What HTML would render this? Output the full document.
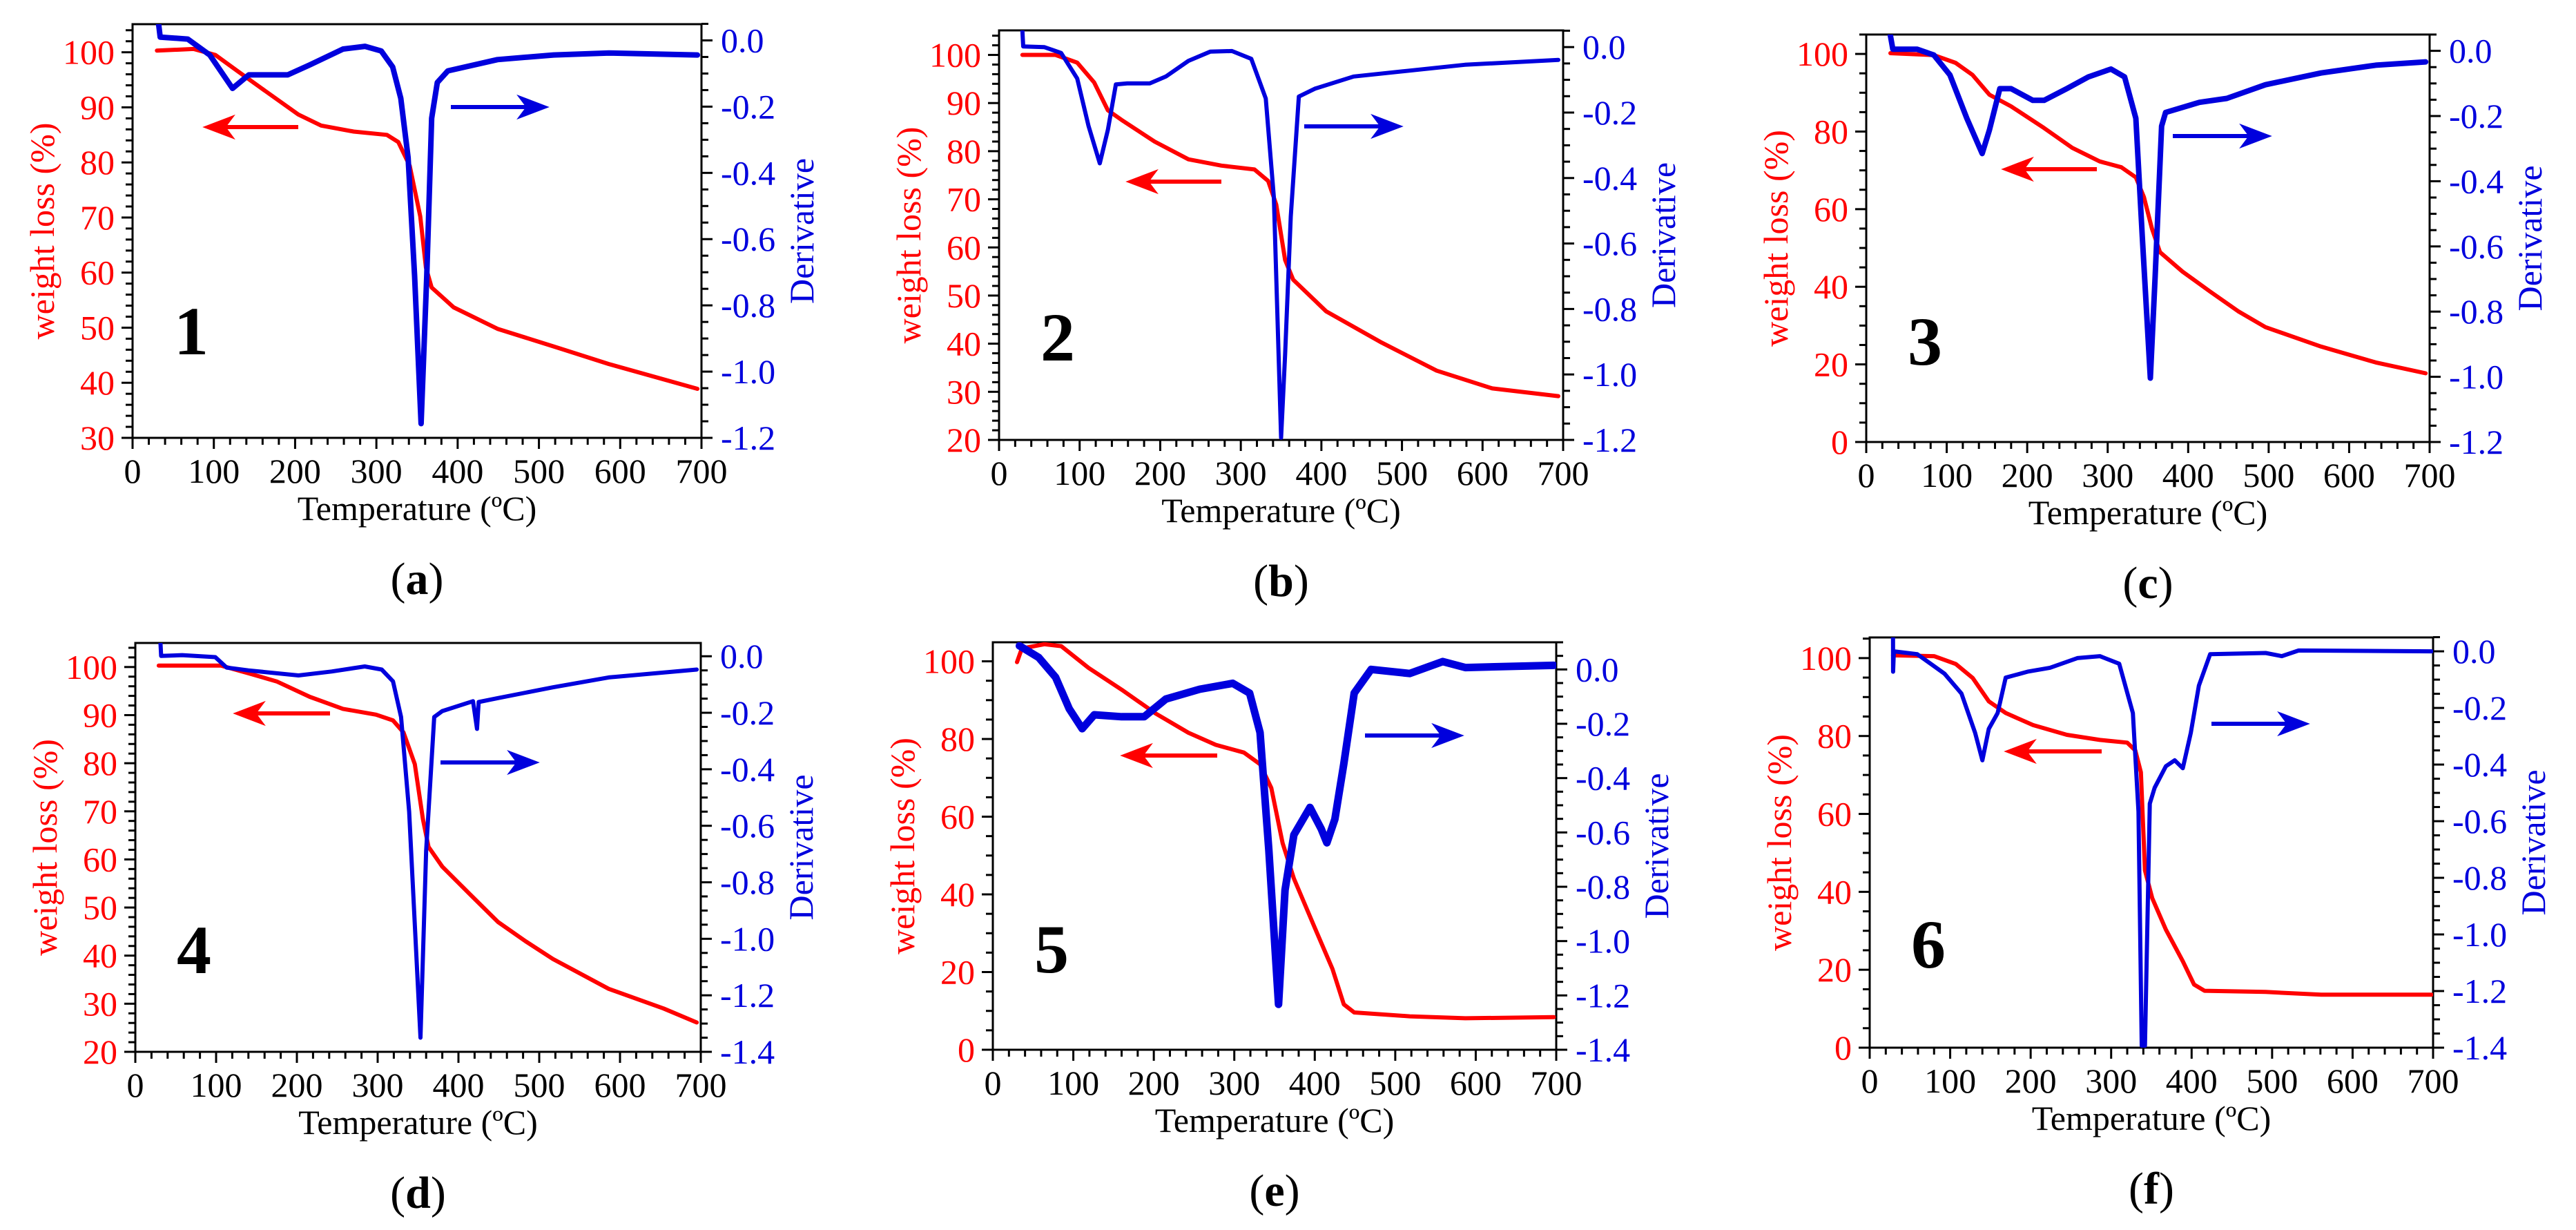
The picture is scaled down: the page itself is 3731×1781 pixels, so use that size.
<!DOCTYPE html>
<html><head><meta charset="utf-8"><title>TGA/DTG curves</title>
<style>
html,body{margin:0;padding:0;background:#fff;}
svg{display:block;}
svg text{font-family:"Liberation Serif","Times New Roman",serif;}
</style></head>
<body>
<svg id="fig" xmlns="http://www.w3.org/2000/svg" width="3731" height="1781" viewBox="0 0 3731 1781" font-family="Liberation Serif, serif"></svg>
<script>
// ---- data (panel a / compound 1) ----
const wTempA=[30,75,102,129,163,204,232,272,313,327,341,354,361,368,395,449,518,586,695];
const wLossA=[100.3,100.6,99.5,96.6,93.0,88.7,86.7,85.6,85.0,83.7,79.4,70.2,60.9,57.3,53.7,49.8,46.6,43.4,38.9];
const dTempA=[32,34,68,95,123,143,191,218,259,286,306,320,330,339,347,355,362,368,375,388,449,518,586,695];
const derivA=[0.05,0.01,0.004,-0.044,-0.145,-0.104,-0.104,-0.074,-0.026,-0.018,-0.032,-0.08,-0.175,-0.354,-0.711,-1.157,-0.711,-0.235,-0.127,-0.092,-0.058,-0.044,-0.038,-0.044];
// ---- panel b / compound 2 ----
const wTempB=[29,70,97,118,135,152,193,235,276,317,334,344,355,365,406,475,543,612,694];
const wLossB=[100,100,98.4,94.3,88.5,86.5,82,78.3,77.0,76.2,73.8,68.9,57.4,53.3,46.7,40.2,34.4,30.7,29.1];
const dTempB=[29,30,56,77,97,111,125,135,145,159,187,207,235,262,289,313,331,341,350,355,362,372,392,440,509,578,694];
const derivB=[0.05,0.002,0,-0.018,-0.096,-0.241,-0.355,-0.253,-0.114,-0.111,-0.111,-0.090,-0.042,-0.014,-0.012,-0.036,-0.157,-0.458,-1.193,-0.94,-0.518,-0.151,-0.127,-0.090,-0.072,-0.054,-0.039];
// ---- panel c / compound 3 ----
const wTempC=[30,84,111,132,153,180,221,256,290,317,335,345,355,365,393,427,462,496,565,633,695];
const wLossC=[100.2,99.7,97.7,94.6,89.5,86.5,80.9,75.8,72.3,70.8,68.2,63.1,55.0,48.9,43.9,38.8,33.7,29.6,24.6,20.5,17.7];
const dTempC=[30,33,63,84,104,125,144,153,166,180,207,221,249,276,304,321,335,343,353,359,367,372,414,448,496,565,633,695];
const derivC=[0.047,0.005,0.005,-0.013,-0.074,-0.207,-0.315,-0.243,-0.116,-0.116,-0.152,-0.152,-0.116,-0.080,-0.056,-0.080,-0.207,-0.569,-1.004,-0.69,-0.231,-0.189,-0.158,-0.146,-0.104,-0.068,-0.044,-0.034];
// ---- panel d / compound 4 ----
const wTempD=[29,106,140,175,216,257,298,319,332,346,356,363,380,414,449,483,517,586,654,695];
const wLossD=[100.3,100.3,98.7,97.0,93.8,91.3,90.1,88.9,86.4,79.8,68.4,62.6,58.5,52.8,47.0,43.0,39.3,33.1,29.0,26.1];
const dTempD=[31,32,58,99,113,140,202,243,284,305,319,329,339,353,360,370,380,418,423,425,449,517,586,695];
const derivD=[0.053,0.001,0.004,-0.003,-0.04,-0.05,-0.068,-0.054,-0.036,-0.047,-0.089,-0.215,-0.55,-1.35,-0.689,-0.215,-0.194,-0.159,-0.257,-0.162,-0.148,-0.11,-0.075,-0.047];
// ---- panel e / compound 5 ----
const wTempE=[30,36,64,85,119,160,202,243,277,312,332,346,360,374,401,422,436,449,518,587,697];
const wLossE=[99.8,103.3,104.4,103.9,98.3,92.7,86.6,81.6,78.5,76.5,73.5,67.4,53.2,44.1,30.9,20.8,11.7,9.6,8.6,8.1,8.4];
const dTempE=[33,57,78,95,111,126,160,188,215,257,298,319,332,343,355,363,374,394,408,415,425,436,449,470,518,559,587,697];
const derivE=[0.087,0.044,-0.029,-0.145,-0.218,-0.167,-0.174,-0.174,-0.109,-0.073,-0.051,-0.087,-0.232,-0.667,-1.233,-0.812,-0.609,-0.508,-0.587,-0.638,-0.551,-0.348,-0.087,0,-0.015,0.029,0.007,0.015];
// ---- panel f / compound 6 ----
const wTempF=[29,80,107,128,148,169,203,245,286,320,330,337,342,351,368,389,403,416,492,561,698];
const wLossF=[100.7,100.5,98.5,94.9,88.9,85.9,82.8,80.3,79.0,78.3,76.3,70.7,45.5,38.4,30.3,22.2,16.2,14.6,14.3,13.6,13.6];
const dTempF=[29,29.1,30,59,93,114,131,140,148,159,169,196,224,258,286,310,327,334,338,342,348,354,368,379,389,399,409,423,492,512,533,698];
const derivF=[0.046,-0.072,0,-0.01,-0.079,-0.149,-0.288,-0.385,-0.274,-0.218,-0.093,-0.072,-0.058,-0.024,-0.017,-0.044,-0.218,-0.566,-1.393,-1.393,-0.538,-0.482,-0.406,-0.385,-0.413,-0.288,-0.121,-0.01,-0.006,-0.017,0.003,0];
// ---- shared tick labels ----
const xTicks=[0,100,200,300,400,500,600,700];

const panels=[
 {id:'a',num:'1',L:192,R:1016,T:35,B:634,wMin:30,wMax:105.1,wStep:10,wMinor:2,dMin:-1.2,dMax:0.049,
  wt:wTempA,wv:wLossA,dt:dTempA,dv:derivA,bw:8,ra:[149,240,104],ba:[120,461,601]},
 {id:'b',num:'2',L:1447,R:2264,T:44,B:637,wMin:20,wMax:105.1,wStep:10,wMinor:2,dMin:-1.2,dMax:0.051,
  wt:wTempB,wv:wLossB,dt:dTempB,dv:derivB,bw:6,ra:[219,322,186],ba:[139,442,583]},
 {id:'c',num:'3',L:2703,R:3519,T:50,B:640,wMin:0,wMax:105,wStep:20,wMinor:5,dMin:-1.2,dMax:0.05,
  wt:wTempC,wv:wLossC,dt:dTempC,dv:derivC,bw:8,ra:[195,334,198],ba:[147,444,585]},
 {id:'d',num:'4',L:196,R:1015,T:931,B:1523,wMin:20,wMax:105,wStep:10,wMinor:2,dMin:-1.4,dMax:0.047,
  wt:wTempD,wv:wLossD,dt:dTempD,dv:derivD,bw:6,ra:[102,282,144],ba:[173,442,583]},
 {id:'e',num:'5',L:1438,R:2254,T:930,B:1520,wMin:0,wMax:104.9,wStep:20,wMinor:5,dMin:-1.4,dMax:0.10,
  wt:wTempE,wv:wLossE,dt:dTempE,dv:derivE,bw:11,ra:[164,325,187],ba:[135,539,680]},
 {id:'f',num:'6',L:2708,R:3524,T:923,B:1517,wMin:0,wMax:105.3,wStep:20,wMinor:5,dMin:-1.4,dMax:0.049,
  wt:wTempF,wv:wLossF,dt:dTempF,dv:derivF,bw:6,ra:[165,336,197],ba:[125,495,635]}
];

const NS='http://www.w3.org/2000/svg';
const svg=document.getElementById('fig');
const FONT='"Liberation Serif", "Times New Roman", serif';
const TS=50;
function mk(tag,attrs,parent){const e=document.createElementNS(NS,tag);for(const k in attrs)e.setAttribute(k,attrs[k]);if(tag==='text')e.style.fontFamily=FONT;(parent||svg).appendChild(e);return e;}
const RED='#ff0000',BLUE='#0000dd';

panels.forEach(p=>{
  const g=mk('g',{});
  
  
  const xs=t=>p.L+(t-0)/700*(p.R-p.L);
  const ys=w=>p.B-(w-p.wMin)/(p.wMax-p.wMin)*(p.B-p.T);
  const yd=d=>p.B-(d-p.dMin)/(p.dMax-p.dMin)*(p.B-p.T);
  const cp=mk('clipPath',{id:'clip'+p.id},g);
  mk('rect',{x:p.L,y:p.T,width:p.R-p.L,height:p.B-p.T},cp);
  const fr=mk('rect',{x:p.L,y:p.T,width:p.R-p.L,height:p.B-p.T,fill:'none',stroke:'#000','stroke-width':3},g);
  
  
  for(let t=0;t<=700;t+=20){
    const major=t%100===0;
    mk('line',{x1:xs(t),x2:xs(t),y1:p.B,y2:p.B+(major?16:10),stroke:'#000','stroke-width':3},g);
  }
  xTicks.forEach(t=>{
    const tx=mk('text',{x:xs(t),y:p.B+65,'font-size':TS,'text-anchor':'middle',fill:'#000'},g);
    tx.textContent=String(t);
    
    
  });
  const xt=mk('text',{x:(p.L+p.R)/2,y:p.B+119,'font-size':50,'text-anchor':'middle',fill:'#000'},g);
  xt.textContent='Temperature (ºC)';
  
  
  for(let w=p.wMin;w<=p.wMax+0.001;w+=p.wMinor){
    const major=Math.abs((w-p.wMin)%p.wStep)<0.01;
    mk('line',{x1:p.L,x2:p.L-(major?16:10),y1:ys(w),y2:ys(w),stroke:'#000','stroke-width':3},g);
    if(major){
      const tl=mk('text',{x:p.L-26,y:ys(w)+17,'font-size':TS,'text-anchor':'end',fill:RED},g);
      tl.textContent=String(Math.round(w));
      
      
    }
  }
  const yl=mk('text',{x:0,y:0,'font-size':TS,'text-anchor':'middle',fill:RED,transform:`translate(${p.L-114},${(p.T+p.B)/2}) rotate(-90)`},g);
  yl.textContent='weight loss (%)';
  
  
  for(let i=0;;i++){
    const d=Math.round((p.dMin+i*0.05)*1000)/1000;
    if(d>p.dMax+0.001)break;
    const major=Math.abs(Math.round(d*1000)%200)===0;
    mk('line',{x1:p.R,x2:p.R+(major?16:10),y1:yd(d),y2:yd(d),stroke:'#000','stroke-width':3},g);
    if(major){
      const tl=mk('text',{x:p.R+28,y:yd(d)+17,'font-size':TS,'text-anchor':'start',fill:BLUE},g);
      tl.textContent=(d<0?'-':'')+Math.abs(d).toFixed(1);
      
      
    }
  }
  const yr=mk('text',{x:0,y:0,'font-size':TS,'text-anchor':'middle',fill:BLUE,transform:`translate(${p.R+162},${(p.T+p.B)/2}) rotate(-90)`},g);
  yr.textContent='Derivative';
  
  
  const cg=mk('g',{'clip-path':`url(#clip${p.id})`},g);
  const wpts=p.wt.map((t,i)=>xs(t).toFixed(1)+','+ys(p.wv[i]).toFixed(1)).join(' ');
  const wl=mk('polyline',{points:wpts,fill:'none',stroke:RED,'stroke-width':6,'stroke-linejoin':'round','stroke-linecap':'round'},cg);
  
  
  const dpts=p.dt.map((t,i)=>xs(t).toFixed(1)+','+yd(p.dv[i]).toFixed(1)).join(' ');
  const dl=mk('polyline',{points:dpts,fill:'none',stroke:BLUE,'stroke-width':p.bw,'stroke-linejoin':'round','stroke-linecap':'round'},cg);
  
  
  function arrow(spec,color,name){
    const [yy,x1,x2]=spec;const y=p.T+yy, a=p.L+x1, b=p.L+x2;
    const dir=Math.sign(b-a);
    const ag=mk('g',{},g);
    
    
    mk('line',{x1:a,y1:y,x2:b-dir*20,y2:y,stroke:color,'stroke-width':6},ag);
    mk('polygon',{points:`${b},${y} ${b-dir*42},${y-16} ${b-dir*30},${y} ${b-dir*42},${y+16}`,fill:color,stroke:color,'stroke-width':2},ag);
  }
  arrow(p.ra,RED,'left-axis-arrow');
  arrow(p.ba,BLUE,'right-axis-arrow');
  const nt=mk('text',{x:p.L+85,y:p.T+478,'font-size':100,'font-weight':'bold','text-anchor':'middle',fill:'#000'},g);
  nt.textContent=p.num;
  
  
  const pl=mk('text',{x:(p.L+p.R)/2,y:p.B+226,'font-size':66,'text-anchor':'middle',fill:'#000'},g);
  pl.innerHTML='(<tspan font-weight="bold">'+p.id+'</tspan>)';
  
  
});
</script>
</body></html>
